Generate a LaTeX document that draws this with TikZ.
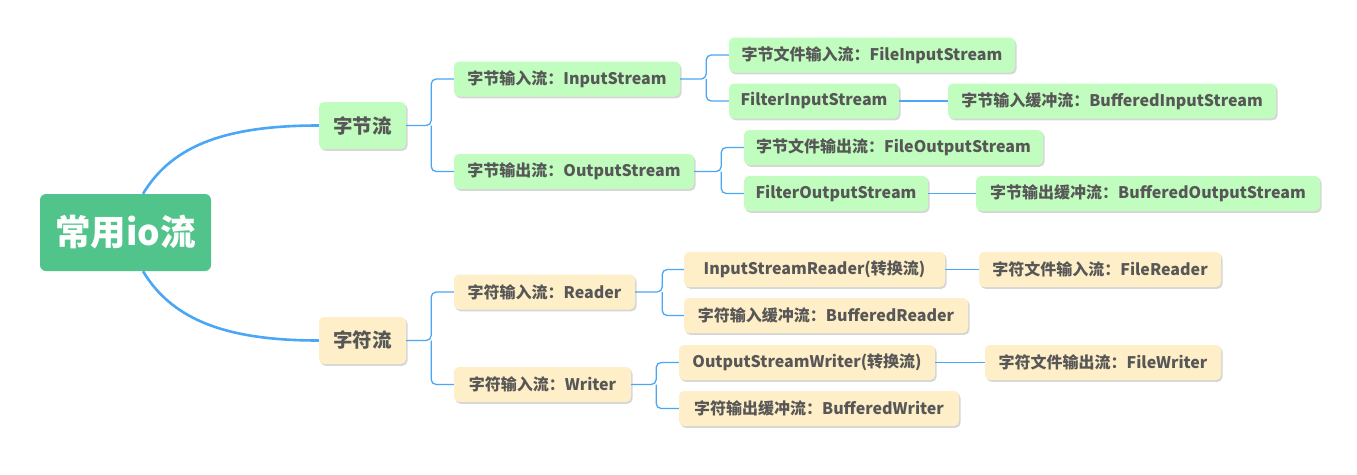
\documentclass[tikz,border=0pt]{standalone}
\usepackage{fontspec}
\setmainfont{Noto Sans CJK SC}
\definecolor{rootc}{HTML}{50C48A}
\definecolor{greenc}{HTML}{C2FDC0}
\definecolor{yellc}{HTML}{FFEFC8}
\definecolor{linec}{HTML}{4AA6F6}
\definecolor{txtc}{HTML}{575757}
\definecolor{shadc}{HTML}{D6D6D6}
\tikzset{
  x=1pt, y=-1pt,
  box/.style={rounded corners=5pt, inner sep=0pt, text=txtc,
    font=\bfseries\fontsize{16}{19}\selectfont, minimum height=35pt,
    preaction={fill=shadc, transform canvas={xshift=1.5pt,yshift=-1.8pt}}},
  gbox/.style={box, fill=greenc},
  ybox/.style={box, fill=yellc},
  lvone/.style={font=\bfseries\fontsize{19.5}{23}\selectfont, minimum height=47pt, minimum width=87pt},
  rootbox/.style={rounded corners=6pt, fill=rootc, text=white, inner sep=0pt,
    font=\bfseries\fontsize{35.5}{40}\selectfont, minimum width=171pt, minimum height=77pt},
  thick conn/.style={draw=linec, line width=2.6pt},
  conn/.style={draw=linec, line width=1.3pt, rounded corners=5pt},
}
\begin{document}
\begin{tikzpicture}
\useasboundingbox (0,0) rectangle (1357,474);
\fill[white] (0,0) rectangle (1357,474);
% nodes
\node[rootbox] (root) at (125.5,232.5) {常用io流};
\node[gbox,lvone] (l1a) at (362.5,125.5) {字节流};
\node[ybox,lvone] (l1b) at (362.5,340.5) {字符流};

\node[gbox,minimum width=226pt] (a1) at (567,79) {字节输入流：InputStream};
\node[gbox,minimum width=240pt] (a2) at (574,171.5) {字节输出流：OutputStream};
\node[gbox,minimum width=286pt] (a11) at (872,55) {字节文件输入流：FileInputStream};
\node[gbox,minimum width=170pt] (a12) at (814,101) {FilterInputStream};
\node[gbox,minimum width=328pt] (a121) at (1112,101) {字节输入缓冲流：BufferedInputStream};
\node[gbox,minimum width=299pt] (a21) at (893.5,147.5) {字节文件输出流：FileOutputStream};
\node[gbox,minimum width=184pt] (a22) at (836,193.5) {FilterOutputStream};
\node[gbox,minimum width=344pt] (a221) at (1148,193.5) {字节输出缓冲流：BufferedOutputStream};

\node[ybox,minimum width=181pt] (b1) at (544.5,292) {字符输入流：Reader};
\node[ybox,minimum width=177pt] (b2) at (542.5,384.5) {字符输入流：Writer};
\node[ybox,minimum width=261pt] (b11) at (814.5,269.5) {InputStreamReader(转换流)};
\node[ybox,minimum width=284pt] (b12) at (826,315.5) {字符输入缓冲流：BufferedReader};
\node[ybox,minimum width=242pt] (b111) at (1100,269.5) {字符文件输入流：FileReader};
\node[ybox,minimum width=256pt] (b21) at (807,362.5) {OutputStreamWriter(转换流)};
\node[ybox,minimum width=280pt] (b22) at (819,408.5) {字符输出缓冲流：BufferedWriter};
\node[ybox,minimum width=236pt] (b211) at (1103,362.5) {字符文件输出流：FileWriter};

% root connectors
\draw[thick conn] ([xshift=17.5pt]root.north) .. controls +(30,-50) and +(-90,0) .. (l1a.west);
\draw[thick conn] ([xshift=17.5pt]root.south) .. controls +(30,50) and +(-90,0) .. (l1b.west);

% junctions
\coordinate (ja) at ([xshift=25pt]l1a.east);
\coordinate (jb) at ([xshift=25pt]l1b.east);
\coordinate (ja1) at ([xshift=26pt]a1.east);
\coordinate (ja2) at ([xshift=27pt]a2.east);
\coordinate (jb1) at ([xshift=27pt]b1.east);
\coordinate (jb2) at ([xshift=25pt]b2.east);

\draw[conn] (l1a.east) -- (ja) |- (a1.west);
\draw[conn] (ja) |- (a2.west);
\draw[conn] (l1b.east) -- (jb) |- (b1.west);
\draw[conn] (jb) |- (b2.west);

\draw[conn] (a1.east) -- (ja1) |- (a11.west);
\draw[conn] (ja1) |- (a12.west);
\draw[conn] (a2.east) -- (ja2) |- (a21.west);
\draw[conn] (ja2) |- (a22.west);
\draw[conn] (b1.east) -- (jb1) |- (b11.west);
\draw[conn] (jb1) |- (b12.west);
\draw[conn] (b2.east) -- (jb2) |- (b21.west);
\draw[conn] (jb2) |- (b22.west);

\draw[conn] (a12.east) -- (a121.west);
\draw[conn] (a22.east) -- (a221.west);
\draw[conn] (b11.east) -- (b111.west);
\draw[conn] (b21.east) -- (b211.west);
\end{tikzpicture}
\end{document}
